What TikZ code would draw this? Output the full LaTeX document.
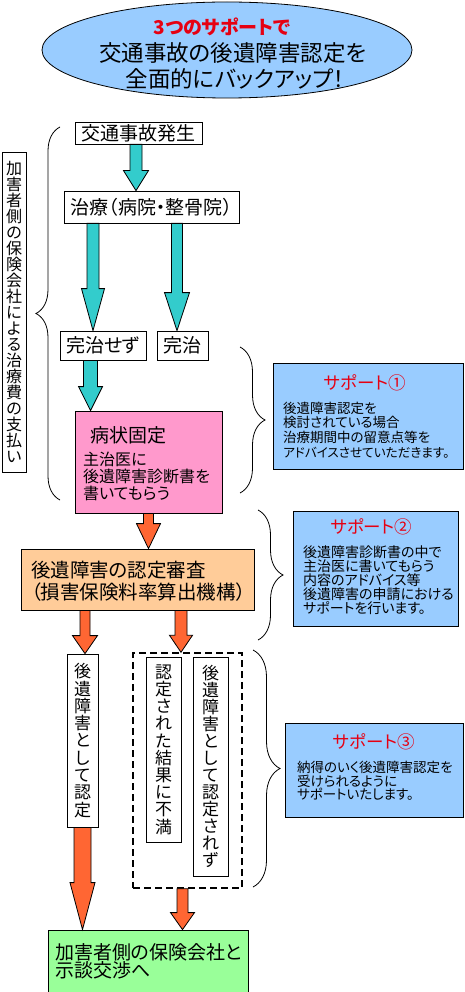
\documentclass[tikz,border=0pt]{standalone}
\usepackage{fontspec}
\setmainfont{Noto Sans CJK JP}[RawFeature=+palt]
\usetikzlibrary{calc,shapes.geometric,decorations.pathreplacing}
\definecolor{skyfill}{HTML}{99CCFF}
\definecolor{pinkfill}{HTML}{FF99CC}
\definecolor{peachfill}{HTML}{FFCC99}
\definecolor{greenfill}{HTML}{99FF99}
\definecolor{cyanarr}{HTML}{33CCCC}
\definecolor{orangearr}{HTML}{FF6633}
\definecolor{redtxt}{HTML}{E60012}
\newcommand{\setfs}[2]{\fontsize{#1}{#2}\selectfont}
% style, from, to, shaft half width, head half width, head length
\newcommand{\barrow}[6]{%
  \filldraw[#1] let \p1=(#2), \p2=(#3) in
    (\x1-#4pt,\y1) -- (\x1+#4pt,\y1) -- (\x1+#4pt,\y2+#6pt) -- (\x1+#5pt,\y2+#6pt)
    -- (\x1,\y2) -- (\x1-#5pt,\y2+#6pt) -- (\x1-#4pt,\y2+#6pt) -- cycle;}
\begin{document}
\begin{tikzpicture}[x=1pt,y=-1pt,
  wbox/.style={draw, fill=white, line width=0.8pt, inner sep=0pt},
  cbox/.style={draw, line width=0.8pt, inner sep=0pt},
  txt/.style={inner sep=0pt},
  btxt/.style={inner sep=0pt, anchor=north west, align=left},
  cyanstyle/.style={fill=cyanarr, draw=black, line width=0.8pt},
  orangestyle/.style={fill=orangearr, draw=black, line width=0.8pt},
  bracestyle/.style={draw, line width=0.8pt, decorate, decoration={brace, amplitude=#1}}]
\useasboundingbox (0,0) rectangle (464,992);

% title ellipse
\node[ellipse, draw, fill=skyfill, line width=0.8pt, minimum width=370pt, minimum height=96pt] (title) at (227,50) {};
\node[txt, font=\setfs{19}{19}\bfseries, text=redtxt] (t1) at (222,27) {3つのサポートで};
\node[txt, font=\setfs{22.5}{22.5}] (t2) at (233,53) {交通事故の後遺障害認定を};
\node[txt, font=\setfs{22.5}{22.5}] (t3) at (235,79) {全面的にバックアップ！};

% left column boxes
\node[wbox, minimum width=127pt, minimum height=22pt, font=\setfs{19}{19}] (acc) at (138.5,133) {交通事故発生};
\node[wbox, minimum width=175pt, minimum height=32pt, font=\setfs{19}{19}] (treat) at (151.5,207) {治療（病院・整骨院）};
\node[wbox, minimum width=86pt, minimum height=29pt, font=\setfs{19}{19}] (notdone) at (103,345.5) {完治せず};
\node[wbox, minimum width=51pt, minimum height=29pt, font=\setfs{19}{19}] (done) at (182.5,345.5) {完治};

\node[cbox, fill=pinkfill, minimum width=147pt, minimum height=102pt] (fixed) at (148.5,462) {};
\node[txt, anchor=west, font=\setfs{19}{19}] (fixedt) at (90,435) {病状固定};
\node[btxt, font=\setfs{16}{17}] (fixedb) at (83,452) {主治医に\\後遺障害診断書を\\書いてもらう};

\node[cbox, fill=peachfill, minimum width=233pt, minimum height=61pt] (review) at (137.5,579.5) {};
\node[btxt, font=\setfs{19.5}{22}] (reviewt) at (31,561) {後遺障害の認定審査\\（損害保険料率算出機構）};

\node[wbox, minimum width=31pt, minimum height=173pt, align=center, font=\setfs{17}{17.3}] (cert) at (82.5,740.5)
  {後\\遺\\障\\害\\と\\し\\て\\認\\定};
\node[draw, line width=1.4pt, dash pattern=on 7pt off 4pt, minimum width=109pt, minimum height=235pt, inner sep=0pt] (dash) at (187.5,770.5) {};
\node[wbox, minimum width=35pt, minimum height=185pt, align=center, font=\setfs{17}{17.2}] (unsat) at (163.5,749.5)
  {認\\定\\さ\\れ\\た\\結\\果\\に\\不\\満};
\node[wbox, minimum width=35pt, minimum height=219pt, align=center, font=\setfs{17}{17}] (notcert) at (210.5,766.5)
  {後\\遺\\障\\害\\と\\し\\て\\認\\定\\さ\\れ\\ず};

\node[cbox, fill=greenfill, minimum width=200pt, minimum height=62pt] (final) at (148,961) {};
\node[btxt, font=\setfs{19}{18.5}] (finalt) at (55,943) {加害者側の保険会社と\\示談交渉へ};

% left vertical label
\node[wbox, minimum width=24pt, minimum height=320pt, align=center, font=\setfs{16}{16}] (insur) at (14,312)
  {加\\害\\者\\側\\の\\保\\険\\会\\社\\に\\よ\\る\\治\\療\\費\\の\\支\\払\\い};

% support boxes
\node[cbox, fill=skyfill, minimum width=190pt, minimum height=106pt] (sup1) at (368,416) {};
\node[txt, font=\setfs{17.5}{17.5}, text=redtxt] (sup1t) at (365,383) {サポート①};
\node[btxt, font=\setfs{13.5}{14.7}] (sup1b) at (283,401.5) {後遺障害認定を\\検討されている場合\\治療期間中の留意点等を\\{\fontsize{12.6}{14.7}\selectfont アドバイスさせていただきます。}};

\node[cbox, fill=skyfill, minimum width=165pt, minimum height=115pt] (sup2) at (375.5,568.5) {};
\node[txt, font=\setfs{17.5}{17.5}, text=redtxt] (sup2t) at (371.5,527) {サポート②};
\node[btxt, font=\setfs{14}{14}] (sup2b) at (303,545.7) {後遺障害診断書の中で\\主治医に書いてもらう\\内容のアドバイス等\\後遺障害の申請における\\サポートを行います。};

\node[cbox, fill=skyfill, minimum width=178pt, minimum height=94pt] (sup3) at (374,770) {};
\node[txt, font=\setfs{17.5}{17.5}, text=redtxt] (sup3t) at (374,742) {サポート③};
\node[btxt, font=\setfs{13.5}{13.5}] (sup3b) at (297,761) {納得のいく後遺障害認定を\\受けられるように\\サポートいたします。};

% arrows
\barrow{cyanstyle}{$(acc.south)+(-2.5,0)$}{treat.north}{6}{12.5}{20}
\barrow{cyanstyle}{$(treat.south)+(-58.5,0)$}{notdone.north}{6}{11.5}{42}
\barrow{cyanstyle}{$(treat.south)+(25.5,0)$}{done.north}{5.5}{12.5}{38}
\barrow{cyanstyle}{$(notdone.south)+(-12.5,0)$}{fixed.north}{7}{12}{24}
\barrow{orangestyle}{fixed.south}{review.north}{5}{12}{25}
\barrow{orangestyle}{$(review.south)+(-52.5,0)$}{cert.north}{5}{12.5}{18}
\barrow{orangestyle}{$(review.south)+(43.5,0)$}{dash.north}{6}{11.5}{17}
\barrow{orangestyle}{cert.south}{final.north}{8.5}{12.5}{47}
\barrow{orangestyle}{$(dash.south)+(-5,0)$}{final.north}{5.5}{12}{17}

% braces
\draw[bracestyle=24] (60,500) -- (60,127);
\draw[bracestyle=25] (240,347) -- (240,493);
\draw[bracestyle=25] (258,510) -- (258,640);
\draw[bracestyle=27] (253,650) -- (253,887);
\end{tikzpicture}
\end{document}
